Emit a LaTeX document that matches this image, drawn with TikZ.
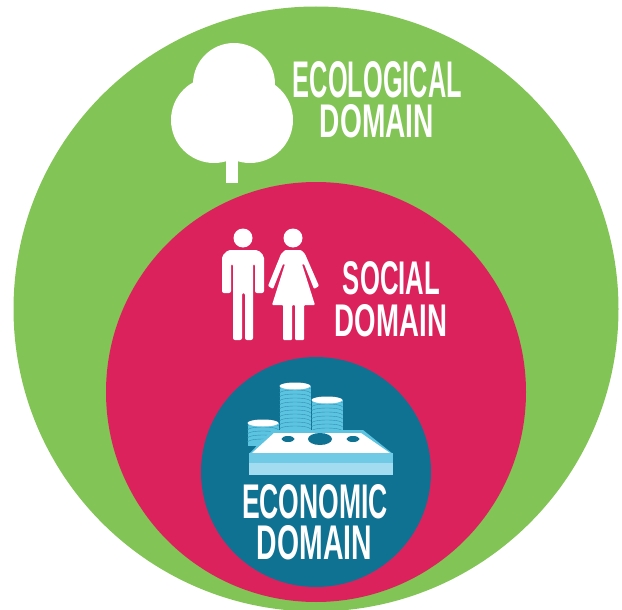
\documentclass[tikz,border=0pt]{standalone}
\usepackage{fontspec}
\usepackage{graphicx}
\setmainfont{Liberation Sans}
\definecolor{ecogreen}{HTML}{82C455}
\definecolor{socialred}{HTML}{DC225C}
\definecolor{econblue}{HTML}{0F7293}
\definecolor{coinblue}{HTML}{5CC3E0}
\definecolor{billblue}{HTML}{A3DBF0}
\newcommand{\fitlabel}[3]{\resizebox{#1pt}{#2pt}{\bfseries #3}}
\begin{document}
\begin{tikzpicture}[x=1pt,y=-1pt]
            \tikzstyle{domaincircle}=[circle, inner sep=0pt, outer sep=0pt]
            \tikzstyle{domainlabel}=[text=white, inner sep=0pt, outer sep=0pt]
            \tikzstyle{whiteshape}=[fill=white, draw=none]
            \useasboundingbox (0,0) rectangle (622,610);
            \node[domaincircle, fill=ecogreen, minimum size=605pt] (Eco) at (316,309) {};
            \node[domaincircle, fill=socialred, minimum size=420pt] (Soc) at (316,392) {};
            \node[domaincircle, fill=econblue, minimum size=230pt] (Econ) at (316,472) {};
            % tree
            \fill[whiteshape] (234,84) circle (41);
            \fill[whiteshape] (214,120) circle (43);
            \fill[whiteshape] (250,120) circle (43);
            \fill[whiteshape] (226,110) rectangle (238,183);
            % man
            \fill[whiteshape] (243,238) circle (9.5);
            \fill[whiteshape, rounded corners=2pt] (222,293) -- (222,256) -- (228,250) -- (258,250) -- (264,256) -- (264,293) -- (255,293) -- (255,264) -- (253,264) -- (253,340) -- (245,340) -- (245,293) -- (242,293) -- (242,340) -- (233,340) -- (233,264) -- (231,264) -- (231,293) -- cycle;
            % woman
            \fill[whiteshape] (293,238) circle (9.5);
            \fill[whiteshape, rounded corners=1pt] (268,286) -- (281,254) -- (285,250) -- (301,250) -- (305,254) -- (319,286) -- (314,289) -- (304,264) -- (302,264) -- (315,305) -- (304,305) -- (304,340) -- (295,340) -- (295,305) -- (292,305) -- (292,340) -- (283,340) -- (283,305) -- (272,305) -- (285,264) -- (283,264) -- (273,289) -- cycle;
            % coins
            \foreach \cx/\ctop/\cbot in {295/386/432, 327/400/432, 263/423/446} {
                \fill[coinblue] (\cx-15.5,\ctop) rectangle (\cx+15.5,\cbot);
                \foreach \cy in {0,4,...,44} {
                    \ifnum\numexpr\ctop+\cy+3\relax<\cbot
                        \draw[econblue!60!coinblue, line width=0.4pt] (\cx-15.5,\ctop+\cy+3) arc[start angle=180, end angle=360, x radius=15.5, y radius=3];
                    \fi
                }
                \fill[white] (\cx,\ctop) ellipse (15.5 and 3.5);
            }
            % banknotes
            \fill[coinblue] (249,454) -- (272,430) -- (363,430) -- (393,454) -- cycle;
            \fill[white] (252,453) -- (274,433) -- (361,433) -- (390,453) -- cycle;
            \fill[econblue] (320,439) ellipse (12 and 6);
            \fill[econblue] (288,439) ellipse (6.5 and 3);
            \fill[econblue] (353,439) ellipse (6.5 and 3);
            \fill[billblue] (249,453) rectangle (393,475);
            \fill[coinblue!70!billblue] (249,453) rectangle (393,463);
            % labels
            \node[domainlabel] (EcoTop) at (377.5,80) {\fitlabel{169}{36}{ECOLOGICAL}};
            \node[domainlabel] (EcoBot) at (377,121.5) {\fitlabel{114}{33}{DOMAIN}};
            \node[domainlabel] (SocTop) at (391.5,278.5) {\fitlabel{97}{33}{SOCIAL}};
            \node[domainlabel] (SocBot) at (391,321) {\fitlabel{112}{32}{DOMAIN}};
            \node[domainlabel] (EconTop) at (315,502) {\fitlabel{146}{34}{ECONOMIC}};
            \node[domainlabel] (EconBot) at (314.5,543) {\fitlabel{115}{34}{DOMAIN}};
        \end{tikzpicture}
\end{document}
